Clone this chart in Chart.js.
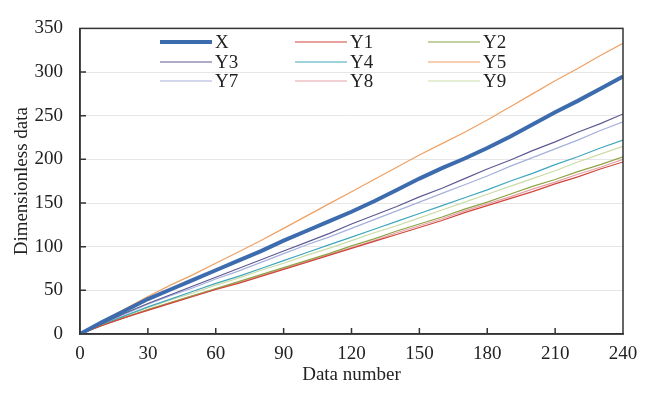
<!DOCTYPE html>
<html lang="en">
<head>
    <meta charset="UTF-8">
    <title>Dimensionless data</title>
    <script src="https://cdn.jsdelivr.net/npm/chart.js"></script>
    <style>
        html, body { margin: 0; padding: 0; background: #fff; }
        #wrap { width: 654px; height: 394px; }
    </style>
</head>
<body>
<div id="wrap"><canvas id="chart" width="654" height="394"></canvas></div>
<script>
    // data number, sampled every 10 points
    const dataNumber = [0, 10, 20, 30, 40, 50, 60, 70, 80, 90, 100, 110, 120, 130, 140, 150, 160, 170, 180, 190, 200, 210, 220, 230, 240];

    const seriesX  = [0, 14, 27, 40, 51, 62, 73, 84, 95, 107, 118, 129, 140, 152, 165, 178, 190, 201, 213, 226, 240, 254, 267, 281, 295];
    const seriesY1 = [0, 10, 19, 27, 35, 43, 51, 58, 66, 74, 82, 90, 98, 106, 114, 122, 130, 139, 147, 155, 163, 172, 180, 189, 197];
    const seriesY2 = [0, 10, 19, 28, 36, 44, 52, 60, 68, 76, 84, 92, 101, 109, 118, 126, 134, 143, 151, 160, 169, 177, 186, 194, 203];
    const seriesY3 = [0, 12, 24, 35, 45, 55, 65, 75, 85, 95, 105, 115, 126, 136, 146, 157, 167, 178, 189, 199, 210, 220, 231, 241, 252];
    const seriesY4 = [0, 11, 21, 31, 40, 49, 58, 66, 75, 84, 93, 102, 111, 120, 129, 138, 147, 156, 165, 175, 184, 194, 203, 213, 222];
    const seriesY5 = [0, 15, 29, 43, 56, 68, 81, 94, 107, 121, 135, 149, 163, 177, 191, 205, 218, 231, 245, 260, 275, 290, 304, 319, 333];
    const seriesY7 = [0, 12, 23, 34, 44, 53, 63, 72, 82, 92, 102, 111, 121, 131, 141, 151, 161, 171, 181, 192, 202, 212, 222, 233, 243];
    const seriesY8 = [0, 10, 19, 28, 36, 44, 51, 59, 67, 75, 83, 91, 99, 107, 116, 124, 132, 141, 149, 157, 166, 174, 183, 191, 200];
    const seriesY9 = [0, 11, 21, 30, 39, 47, 56, 64, 73, 81, 90, 98, 107, 116, 124, 133, 142, 151, 160, 169, 178, 187, 197, 206, 215];

    const xTicks = [0, 30, 60, 90, 120, 150, 180, 210, 240];
    const yTicks = [0, 50, 100, 150, 200, 250, 300, 350];

    const serif = "'Liberation Serif', 'Times New Roman', serif";

    function pts(ys) {
        return ys.map((y, i) => ({ x: dataNumber[i], y: y }));
    }

    function line(label, ys, color, width) {
        return {
            label: label,
            data: pts(ys),
            borderColor: color,
            backgroundColor: color,
            borderWidth: width,
            pointRadius: 0,
            tension: 0,
            fill: false
        };
    }

    // legend grid: 3 columns x 3 rows inside the plot
    const legendGrid = {
        id: 'legendGrid',
        afterDatasetsDraw(chart) {
            const ctx = chart.ctx;
            const cols = [160, 295, 428];
            const rows = [42, 62, 81];
            ctx.save();
            ctx.font = '19px ' + serif;
            ctx.textBaseline = 'middle';
            ctx.textAlign = 'left';
            chart.data.datasets.forEach((ds, i) => {
                const x = cols[i % 3];
                const y = rows[Math.floor(i / 3)];
                ctx.strokeStyle = ds.borderColor;
                ctx.lineWidth = ds.borderWidth;
                ctx.beginPath();
                ctx.moveTo(x, y);
                ctx.lineTo(x + 52, y);
                ctx.stroke();
                ctx.fillStyle = '#222';
                ctx.fillText(ds.label, x + 55, y + 1);
            });
            ctx.restore();
        }
    };

    // frame and inward tick marks
    const frame = {
        id: 'frame',
        afterDraw(chart) {
            const ctx = chart.ctx;
            const a = chart.chartArea;
            const xs = chart.scales.x, ys = chart.scales.y;
            ctx.save();
            ctx.strokeStyle = '#333';
            ctx.lineWidth = 1.5;
            ctx.strokeRect(a.left, a.top, a.right - a.left, a.bottom - a.top);
            ctx.beginPath();
            xTicks.slice(1, -1).forEach(v => {
                const px = xs.getPixelForValue(v);
                ctx.moveTo(px, a.bottom);
                ctx.lineTo(px, a.bottom - 6);
            });
            yTicks.slice(1, -1).forEach(v => {
                const py = ys.getPixelForValue(v);
                ctx.moveTo(a.left, py);
                ctx.lineTo(a.left + 6, py);
            });
            ctx.stroke();
            ctx.restore();
        }
    };

    new Chart(document.getElementById('chart').getContext('2d'), {
        type: 'line',
        data: {
            datasets: [
                line('X',  seriesX,  '#3d6cae', 4),
                line('Y1', seriesY1, '#d0463c', 1.2),
                line('Y2', seriesY2, '#8ea444', 1.2),
                line('Y3', seriesY3, '#5e5a92', 1.2),
                line('Y4', seriesY4, '#3fa7bd', 1.2),
                line('Y5', seriesY5, '#f0a062', 1.2),
                line('Y7', seriesY7, '#a6b0dc', 1.2),
                line('Y8', seriesY8, '#e6a0a8', 1.2),
                line('Y9', seriesY9, '#cbdca6', 1.2)
            ]
        },
        options: {
            responsive: false,
            animation: false,
            layout: { padding: { top: 14, right: 31, left: 0, bottom: 8 } },
            plugins: { legend: { display: false }, tooltip: { enabled: false } },
            scales: {
                x: {
                    type: 'linear',
                    min: 0, max: 240,
                    afterFit(s) { s.height = 52; },
                    afterBuildTicks(s) { s.ticks = xTicks.map(v => ({ value: v })); },
                    grid: { display: false, drawTicks: false },
                    border: { display: true, color: '#333', width: 1.5 },
                    ticks: { color: '#222', font: { family: serif, size: 19 }, padding: 9, maxRotation: 0 },
                    title: { display: true, text: 'Data number', color: '#222', font: { family: serif, size: 19 }, padding: { top: 0, bottom: 0 } }
                },
                y: {
                    min: 0, max: 350,
                    afterFit(s) { s.width = 80; },
                    afterBuildTicks(s) { s.ticks = yTicks.map(v => ({ value: v })); },
                    grid: { color: '#e6e6e6', lineWidth: 1, drawTicks: false },
                    border: { display: true, color: '#333', width: 1.5 },
                    ticks: { color: '#222', font: { family: serif, size: 19 }, padding: 17 },
                    title: { display: true, text: 'Dimensionless data', color: '#222', font: { family: serif, size: 19 }, padding: { top: 11, bottom: 0 } }
                }
            }
        },
        plugins: [legendGrid, frame]
    });
</script>
</body>
</html>
